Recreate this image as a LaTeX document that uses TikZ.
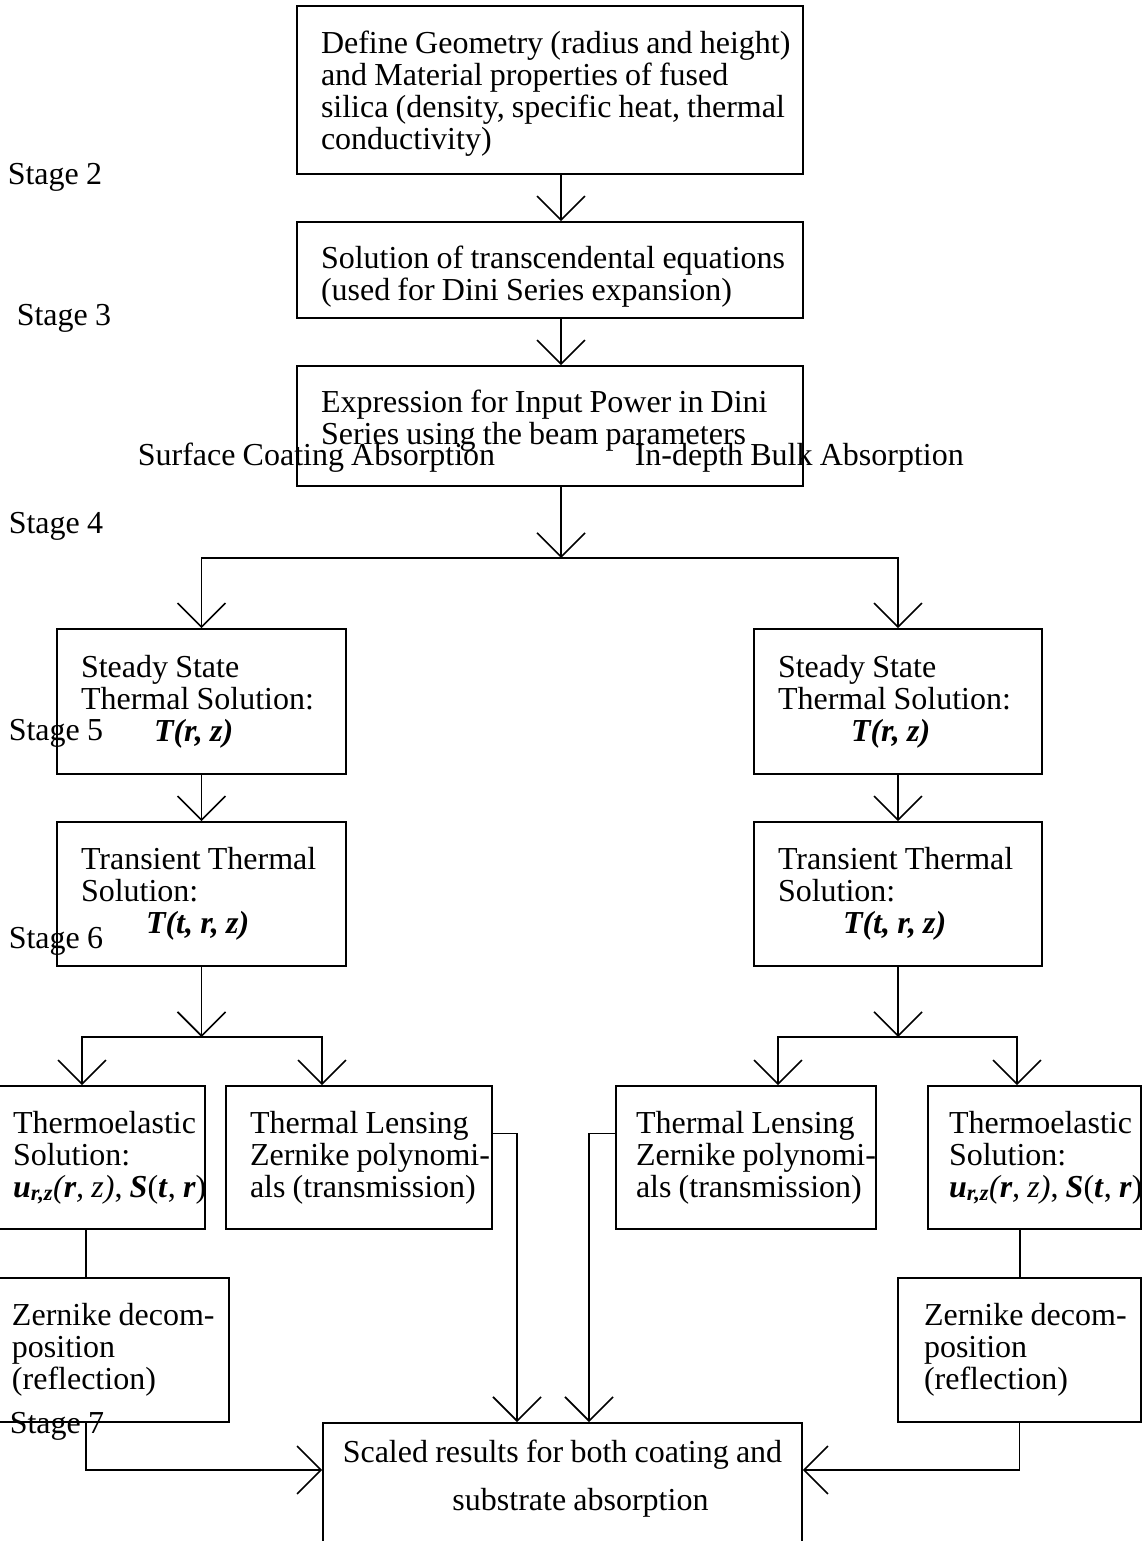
\documentclass[tikz,border=0pt]{standalone}
\usepackage{fontspec}
\setmainfont{Liberation Serif}[WordSpace=0.9]
\usetikzlibrary{arrows.meta}
\newcommand{\urz}{\textbf{\textit{u}}\textsubscript{\textbf{\textit{r,z}}}\textit{(\textbf{r}, z)}, \textbf{\textit{S}}(\textbf{\textit{t}}, \textbf{\textit{r}})}
\tikzset{
    every node/.style={font=\fontsize{32}{32}\selectfont},
    every path/.style={line width=1.6pt},
    box/.style={draw, align=flush left, inner xsep=24pt, inner ysep=0pt},
    lbl/.style={inner sep=0pt, anchor=base west},
    arr/.style={-{Straight Barb[length=24pt,width=48pt]}}
}
\begin{document}
\begin{tikzpicture}[x=1pt,y=-1pt]
\useasboundingbox (0,0) rectangle (1147,1541);

\node[box, minimum width=506pt, minimum height=168pt, text width=458pt, text height=29pt] at (550,90) (geom)
  {\mbox{Define Geometry (radius and height)}\\ and Material properties of fused\\ \mbox{silica (density, specific heat, thermal}\\ conductivity)};
\node[box, minimum width=506pt, minimum height=96pt, text width=458pt, text height=35pt] at (550,270) (trans)
  {\mbox{Solution of transcendental equations}\\ (used for Dini Series expansion)};
\node[box, minimum width=506pt, minimum height=120pt, text width=458pt, text height=11pt] at (550,426) (power)
  {\mbox{Expression for Input Power in Dini}\\ Series using the beam parameters};

\node[lbl] at (7,185) (st2) {Stage 2};
\node[lbl] at (16,325) (st3) {Stage 3};
\node[lbl] at (8,533) (st4) {Stage 4};
\node[lbl] at (8,740) (st5) {Stage 5};
\node[lbl] at (8,948) (st6) {Stage 6};
\node[lbl] at (9,1433) (st7) {Stage 7};
\node[lbl] at (137,465) (surf) {Surface Coating Absorption};
\node[lbl] at (634,465) (bulk) {In-depth Bulk Absorption};

\node[box, minimum width=289pt, minimum height=145pt, text width=241pt] at (201.5,701.5) (ssL)
  {Steady State\\ \mbox{Thermal Solution:}\\ \hspace*{73pt}\textbf{\textit{T(r, z)}}};
\node[box, minimum width=288pt, minimum height=145pt, text width=240pt] at (898,701.5) (ssR)
  {Steady State\\ \mbox{Thermal Solution:}\\ \hspace*{73pt}\textbf{\textit{T(r, z)}}};
\node[box, minimum width=289pt, minimum height=144pt, text width=241pt] at (201.5,894) (trL)
  {\mbox{Transient Thermal}\\ Solution:\\ \hspace*{65pt}\textbf{\textit{T(t, r, z)}}};
\node[box, minimum width=288pt, minimum height=144pt, text width=240pt] at (898,894) (trR)
  {\mbox{Transient Thermal}\\ Solution:\\ \hspace*{65pt}\textbf{\textit{T(t, r, z)}}};

\node[box, inner xsep=21pt, minimum width=213pt, minimum height=143pt, text width=171pt] at (98.5,1157.5) (teL)
  {\mbox{Thermoelastic}\\ Solution:\\ \mbox{\urz}};
\node[box, minimum width=266pt, minimum height=143pt, text width=218pt] at (359,1157.5) (tlL)
  {\mbox{Thermal Lensing}\\ \mbox{Zernike polynomi-}\\ \mbox{als (transmission)}};
\node[box, inner xsep=20pt, minimum width=260pt, minimum height=143pt, text width=220pt] at (746,1157.5) (tlR)
  {\mbox{Thermal Lensing}\\ \mbox{Zernike polynomi-}\\ \mbox{als (transmission)}};
\node[box, inner xsep=21pt, minimum width=213pt, minimum height=143pt, text width=171pt] at (1034.5,1157.5) (teR)
  {\mbox{Thermoelastic}\\ Solution:\\ \mbox{\urz}};

\node[box, inner xsep=26pt, minimum width=243pt, minimum height=144pt, text width=191pt] at (107.5,1350) (zdL)
  {\mbox{Zernike decom-}\\ position\\ (reflection)};
\node[box, inner xsep=26pt, minimum width=243pt, minimum height=144pt, text width=191pt] at (1019.5,1350) (zdR)
  {\mbox{Zernike decom-}\\ position\\ (reflection)};

\node[box, align=flush center, anchor=north, inner xsep=14pt, inner ysep=17pt, text width=451pt, text depth=100pt] at (562.5,1422) (scaled)
  {\mbox{Scaled results for both coating and}\\[16pt] \hspace*{36pt}substrate absorption};

% main trunk
\draw[arr] ([xshift=11pt]geom.south) -- ([xshift=11pt]trans.north);
\draw[arr] ([xshift=11pt]trans.south) -- ([xshift=11pt]power.north);
\coordinate (split) at (561,558);
\draw[arr] ([xshift=11pt]power.south) -- (split);
\draw[arr] (split) -| (ssL.north);
\draw[arr] (split) -| (ssR.north);
\draw[arr] (ssL) -- (trL);
\draw[arr] (ssR) -- (trR);

% left branch
\coordinate (splitL) at (201.5,1037);
\draw[arr] (trL) -- (splitL);
\draw[arr] (splitL) -| ([xshift=-16.5pt]teL.north);
\draw[arr] (splitL) -| ([xshift=-37pt]tlL.north);
\draw ([xshift=-12.5pt]teL.south) -- ([xshift=-12.5pt]teL.south |- zdL.north);

% right branch
\coordinate (splitR) at (898,1037);
\draw[arr] (trR) -- (splitR);
\draw[arr] (splitR) -| ([xshift=32pt]tlR.north);
\draw[arr] (splitR) -| ([xshift=-17.5pt]teR.north);
\draw ([xshift=-14.5pt]teR.south) -- ([xshift=-14.5pt]teR.south |- zdR.north);

% into the results
\draw[arr] ([yshift=24pt]tlL.east) -| ([xshift=-45.5pt]scaled.north);
\draw[arr] ([yshift=24pt]tlR.west) -| ([xshift=26.5pt]scaled.north);
\draw[arr] ([xshift=-21.5pt]zdL.south) |- ([yshift=-48pt]scaled.north west);
\draw[arr] (zdR.south) |- ([yshift=-48pt]scaled.north east);
\end{tikzpicture}
\end{document}
